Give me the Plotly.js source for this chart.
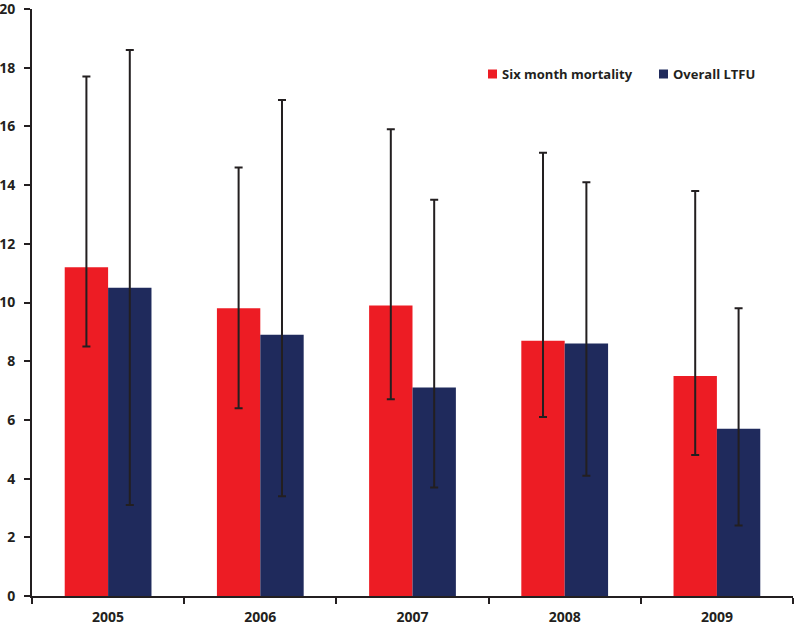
<!DOCTYPE html>
<html>
<head>
<meta charset="utf-8">
<script src="https://cdn.plot.ly/plotly-3.0.1.min.js"></script>
<style>html,body{margin:0;padding:0;background:#fff;}#chart{width:795px;height:625px;}</style>
</head>
<body>
<div id="chart"></div>
<script>
const years = ["2005", "2006", "2007", "2008", "2009"];
const seriesNames = ["Six month mortality", "Overall LTFU"];
const mortality = [11.2, 9.8, 9.9, 8.7, 7.5];
const mortalityUpper = [17.7, 14.6, 15.9, 15.1, 13.8];
const mortalityLower = [8.5, 6.4, 6.7, 6.1, 4.8];
const ltfu = [10.5, 8.9, 7.1, 8.6, 5.7];
const ltfuUpper = [18.6, 16.9, 13.5, 14.1, 9.8];
const ltfuLower = [3.1, 3.4, 3.7, 4.1, 2.4];
const yTicks = [0, 2, 4, 6, 8, 10, 12, 14, 16, 18, 20];
const colors = ['#ed1c24', '#1f2a5c'];

function errs(v, up, lo) {
  return {
    type: 'data', symmetric: false,
    array: v.map((x, i) => +(up[i] - x).toFixed(3)),
    arrayminus: v.map((x, i) => +(x - lo[i]).toFixed(3)),
    color: '#231f20', thickness: 2, width: 4
  };
}

const traces = [
  { type: 'bar', name: seriesNames[0], x: years, y: mortality,
    marker: { color: colors[0] }, error_y: errs(mortality, mortalityUpper, mortalityLower) },
  { type: 'bar', name: seriesNames[1], x: years, y: ltfu,
    marker: { color: colors[1] }, error_y: errs(ltfu, ltfuUpper, ltfuLower) }
];

const tickFont = { size: 14, family: 'Open Sans, sans-serif', weight: 'bold', color: '#231f20' };
const legFont = { size: 13, family: 'Open Sans, sans-serif', weight: 'bold', color: '#231f20' };

// manual legend (pixel positions converted to paper coords)
const W = 795, H = 625, mL = 32, mR = 2, mT = 9, mB = 29;
const pw = W - mL - mR, ph = H - mT - mB;
const px = x => (x - mL) / pw;
const py = y => (H - mB - y) / ph;
const legItems = [{ sx: 488, tx: 500 }, { sx: 659, tx: 671 }];
const legY = 74;
const shapes = legItems.map((it, i) => ({
  type: 'rect', xref: 'paper', yref: 'paper',
  x0: px(it.sx), x1: px(it.sx + 9), y0: py(legY + 4.5), y1: py(legY - 4.5),
  fillcolor: colors[i], line: { width: 0 }
}));
const annotations = legItems.map((it, i) => ({
  xref: 'paper', yref: 'paper', x: px(it.tx), y: py(legY),
  xanchor: 'left', yanchor: 'middle', text: seriesNames[i], showarrow: false, font: legFont
}));

const layout = {
  width: W, height: H,
  margin: { l: mL, r: mR, t: mT, b: mB },
  paper_bgcolor: '#fff', plot_bgcolor: '#fff',
  barmode: 'group', bargap: 0.43, bargroupgap: 0,
  font: { family: 'Open Sans, sans-serif', color: '#231f20' },
  showlegend: false,
  shapes: shapes, annotations: annotations,
  xaxis: {
    type: 'category', showline: true, linecolor: '#231f20', linewidth: 2,
    ticks: 'outside', tickson: 'boundaries', ticklen: 6, tickwidth: 2, tickcolor: '#231f20',
    ticklabelstandoff: 7, ticklabeloverflow: 'allow', automargin: false,
    showgrid: false, zeroline: false, tickfont: tickFont
  },
  yaxis: {
    range: [0, 20], tickmode: 'array', tickvals: yTicks, ticktext: yTicks.map(String),
    showline: true, linecolor: '#231f20', linewidth: 2,
    ticks: 'outside', ticklen: 6, tickwidth: 2, tickcolor: '#231f20',
    ticklabelstandoff: 6, ticklabeloverflow: 'allow', automargin: false,
    showgrid: false, zeroline: false, tickfont: tickFont
  }
};

Plotly.newPlot('chart', traces, layout, { displayModeBar: false, staticPlot: true });
</script>
</body>
</html>
